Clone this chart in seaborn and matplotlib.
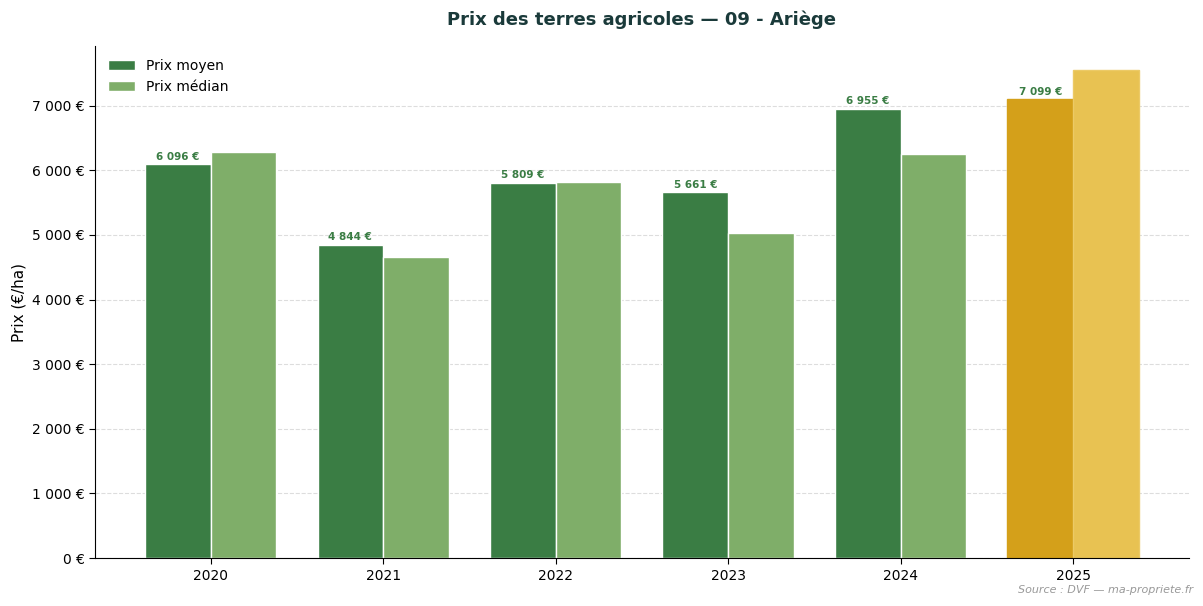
import matplotlib
matplotlib.use("Agg")
import matplotlib.pyplot as plt
import seaborn as sns
import pandas as pd
from matplotlib.ticker import FuncFormatter

years = ["2020", "2021", "2022", "2023", "2024", "2025"]
prix_moyen = [6096, 4844, 5809, 5661, 6955, 7099]
prix_median = [6280, 4655, 5815, 5025, 6245, 7545]

df = pd.DataFrame({
    "year": years * 2,
    "value": prix_moyen + prix_median,
    "type": ["Prix moyen"] * len(years) + ["Prix médian"] * len(years),
})

sns.set_style("white", {"axes.edgecolor": "black", "text.color": "black",
                        "xtick.color": "black", "ytick.color": "black",
                        "axes.labelcolor": "black"})
plt.rcParams['font.family'] = ['DejaVu Sans']

fig, ax = plt.subplots(figsize=(12.03, 6.06), dpi=100)
sns.barplot(data=df, x="year", y="value", hue="type",
            palette=["#3a7d44", "#7fae69"], width=0.76, saturation=1,
            edgecolor="white", linewidth=1, ax=ax, errorbar=None)

n = len(years)
bars_mean = ax.containers[0]
bars_med = ax.containers[1]
bars_mean[n - 1].set_facecolor("#d4a01a")
bars_mean[n - 1].set_edgecolor("#d4a01a")
bars_med[n - 1].set_facecolor("#e8c252")
bars_med[n - 1].set_edgecolor("#ecca66")

for rect, v in zip(bars_mean, prix_moyen):
    ax.text(rect.get_x() + rect.get_width() / 2, v + 40,
            f"{v:,}".replace(",", " ") + " €",
            ha="center", va="bottom", fontsize=7.5, fontweight="bold",
            color="#3a7d44")

ax.yaxis.set_major_formatter(FuncFormatter(lambda x, p: f"{int(x):,}".replace(",", " ") + " €"))
ax.set_ylim(0, max(prix_median + prix_moyen) * 1.05)
ax.set_xlim(-0.67, n - 1 + 0.67)
ax.set_xlabel("")
ax.set_ylabel("Prix (€/ha)", fontsize=11)
ax.grid(axis="y", linestyle="--", color="#dddddd", linewidth=0.8)
ax.set_axisbelow(True)
sns.despine(ax=ax)
ax.tick_params(axis="both", length=4, labelsize=10, colors="black")
ax.tick_params(axis="both", which="major", bottom=True, left=True)
ax.set_title("Prix des terres agricoles — 09 - Ariège", fontsize=13,
             fontweight="bold", color="#1a3a3a", pad=15)
leg = ax.legend(loc="upper left", frameon=False, fontsize=10, title=None)

fig.text(0.992, 0.018, "Source : DVF — ma-propriete.fr", ha="right", va="bottom",
         fontsize=8, style="italic", color="#999999")

fig.subplots_adjust(left=0.079, right=0.988, top=0.924, bottom=0.079)
fig.savefig("out.png", dpi=100)
